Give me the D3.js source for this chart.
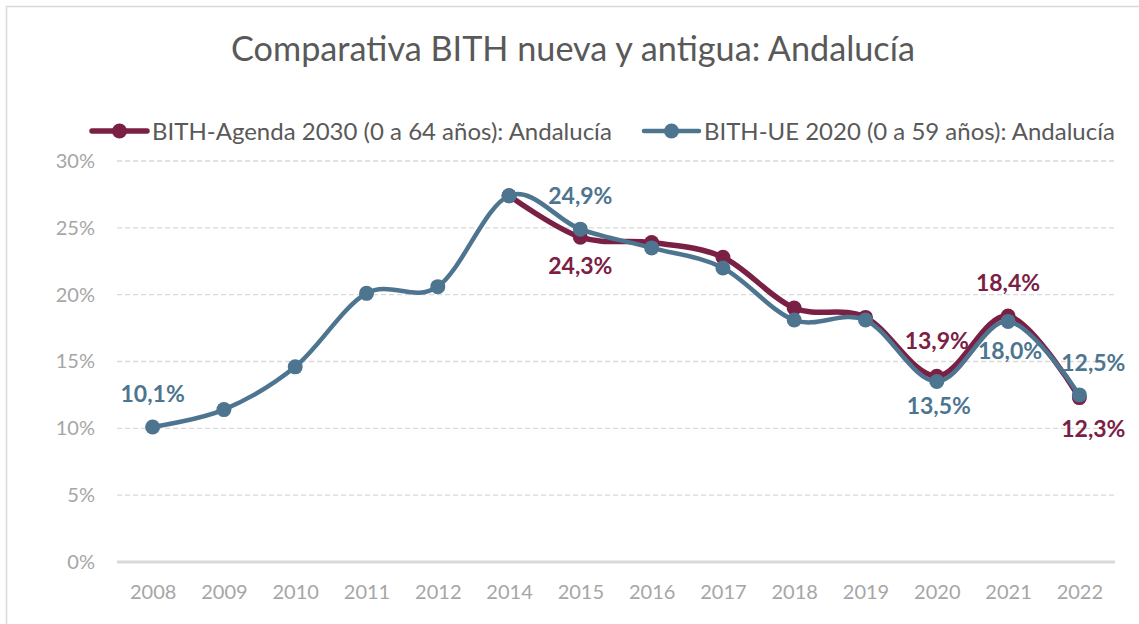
<!DOCTYPE html>
<html lang="es">
<head>
<meta charset="utf-8">
<script src="https://cdn.jsdelivr.net/npm/d3@7"></script>
<style>
  html, body { margin: 0; padding: 0; background: #ffffff; }
  svg { display: block; font-family: Lato, "Open Sans", sans-serif; }
</style>
</head>
<body>
<svg id="chart" width="1139" height="624"></svg>
<script>
// Categories (2013 is not part of the series)
const years = ["2008", "2009", "2010", "2011", "2012", "2014", "2015", "2016", "2017", "2018", "2019", "2020", "2021", "2022"];

// BITH-UE 2020 (0 a 59 años), %
const ueValues = [10.1, 11.4, 14.6, 20.1, 20.6, 27.4, 24.9, 23.5, 22.0, 18.1, 18.1, 13.5, 18.0, 12.5];

// BITH-Agenda 2030 (0 a 64 años), % — available from 2014
const agendaValues = [null, null, null, null, null, 27.4, 24.3, 23.9, 22.8, 19.0, 18.3, 13.9, 18.4, 12.3];

// Y axis ticks, %
const yTicks = [0, 5, 10, 15, 20, 25, 30];

const titleText = "Comparativa BITH nueva y antigua: Andalucía";
const agendaName = "BITH-Agenda 2030 (0 a 64 años): Andalucía";
const ueName = "BITH-UE 2020 (0 a 59 años): Andalucía";

// Years whose value is written on the chart
const ueLabelYears = ["2008", "2015", "2020", "2021", "2022"];
const agendaLabelYears = ["2015", "2020", "2021", "2022"];

// ---- layout -------------------------------------------------------------
const colAgenda = "#7B2045";
const colUE = "#4E7590";
const gridCol = "#d9d9d9";
const textGrey = "#595959";
const tickGrey = "#a6a6a6";

// label placement relative to its point: [dx, dy of text centre]
const ueLabelPos = { "2008": [0, -33], "2015": [0, -33], "2020": [2, 24], "2021": [2, 29], "2022": [14, -32] };
const agendaLabelPos = { "2015": [0, 29], "2020": [0, -35], "2021": [0, -33], "2022": [14, 31] };

const svg = d3.select("#chart");

// outer frame
svg.append("rect")
  .attr("x", 6.5).attr("y", 6.5)
  .attr("width", 1150).attr("height", 640)
  .attr("fill", "none")
  .attr("stroke", gridCol)
  .attr("stroke-width", 1.5);

const x = d3.scalePoint().domain(years).range([117, 1115]).padding(0.5);
const y = d3.scaleLinear().domain([0, 30]).range([562, 161]);

// shrink/grow a text element so it spans the given width
function fitWidth(sel, target) {
  const node = sel.node();
  const size = parseFloat(sel.attr("font-size"));
  const len = node.getComputedTextLength();
  sel.attr("font-size", (size * target / len).toFixed(2));
}

// title
const title = svg.append("text")
  .attr("x", 573).attr("y", 61)
  .attr("text-anchor", "middle")
  .attr("font-size", 30)
  .attr("fill", textGrey)
  .text(titleText);
fitWidth(title, 684);

// gridlines
svg.append("g").selectAll("line")
  .data(yTicks)
  .join("line")
  .attr("x1", 117).attr("x2", 1115)
  .attr("y1", d => y(d)).attr("y2", d => y(d))
  .attr("stroke", gridCol)
  .attr("stroke-width", d => d === 0 ? 3 : 1.4)
  .attr("stroke-dasharray", d => d === 0 ? null : "5,3");

// y axis labels
const yAxis = svg.append("g")
  .attr("transform", "translate(95,0)")
  .call(d3.axisLeft(y).tickValues(yTicks).tickFormat(d => d + "%").tickSize(0).tickPadding(0));
yAxis.select(".domain").remove();
yAxis.selectAll("text")
  .attr("font-family", "Lato, 'Open Sans', sans-serif")
  .attr("font-size", 20)
  .attr("fill", tickGrey);

// x axis labels
const xAxis = svg.append("g")
  .attr("transform", "translate(0,580)")
  .call(d3.axisBottom(x).tickSize(0).tickPadding(0));
xAxis.select(".domain").remove();
xAxis.selectAll("text")
  .attr("font-family", "Lato, 'Open Sans', sans-serif")
  .attr("font-size", 20)
  .attr("fill", tickGrey)
  .attr("dy", "0.95em");

const line = d3.line()
  .defined(d => d.v != null)
  .x(d => x(d.year))
  .y(d => y(d.v))
  .curve(d3.curveCatmullRom.alpha(0));

const agendaData = years.map((yr, i) => ({ year: yr, v: agendaValues[i] }));
const ueData = years.map((yr, i) => ({ year: yr, v: ueValues[i] }));

function drawSeries(data, color, width, r) {
  const g = svg.append("g");
  g.append("path")
    .datum(data)
    .attr("d", line)
    .attr("fill", "none")
    .attr("stroke", color)
    .attr("stroke-width", width)
    .attr("stroke-linejoin", "round")
    .attr("stroke-linecap", "round");
  g.selectAll("circle")
    .data(data.filter(d => d.v != null))
    .join("circle")
    .attr("cx", d => x(d.year))
    .attr("cy", d => y(d.v))
    .attr("r", r)
    .attr("fill", color);
}

drawSeries(agendaData, colAgenda, 5.5, 7.5);
drawSeries(ueData, colUE, 4.5, 7.5);

// value labels
const fmt = v => d3.format(".1f")(v).replace(".", ",") + "%";
function drawLabels(data, labelYears, pos, color) {
  svg.append("g").selectAll("text")
    .data(data.filter(d => labelYears.includes(d.year)))
    .join("text")
    .attr("x", d => x(d.year) + pos[d.year][0])
    .attr("y", d => y(d.v) + pos[d.year][1])
    .attr("dy", "0.36em")
    .attr("text-anchor", "middle")
    .attr("font-size", 23)
    .attr("font-weight", 700)
    .attr("fill", color)
    .text(d => fmt(d.v));
}
drawLabels(agendaData, agendaLabelYears, agendaLabelPos, colAgenda);
drawLabels(ueData, ueLabelYears, ueLabelPos, colUE);

// legend
const legend = svg.append("g");
function legendItem(x0, name, color, width, target) {
  legend.append("line")
    .attr("x1", x0).attr("x2", x0 + 55)
    .attr("y1", 131).attr("y2", 131)
    .attr("stroke", color).attr("stroke-width", width)
    .attr("stroke-linecap", "round");
  legend.append("circle")
    .attr("cx", x0 + 27.5).attr("cy", 131).attr("r", 7.5)
    .attr("fill", color);
  const t = legend.append("text")
    .attr("x", x0 + 60).attr("y", 131)
    .attr("dy", "0.36em")
    .attr("font-size", 22)
    .attr("fill", textGrey)
    .text(name);
  fitWidth(t, target);
}
legendItem(92, agendaName, colAgenda, 5.5, 460);
legendItem(644, ueName, colUE, 4.5, 411);
</script>
</body>
</html>
